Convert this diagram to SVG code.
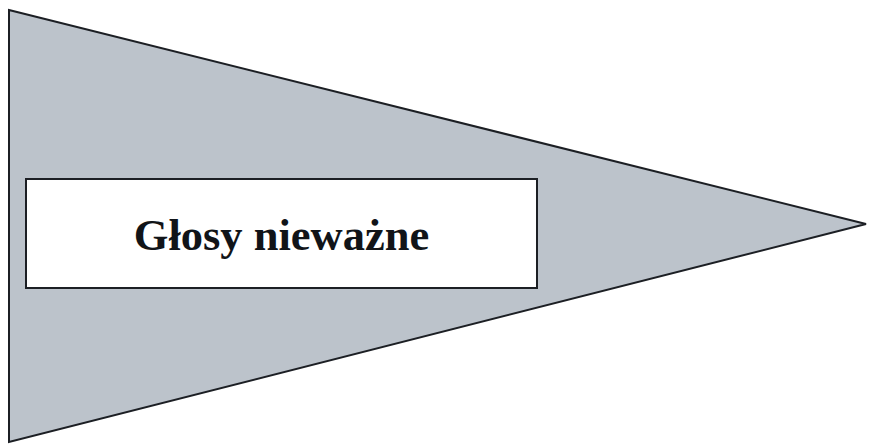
<svg xmlns="http://www.w3.org/2000/svg" width="869" height="445" viewBox="0 0 869 445">
<style>
.tri{fill:#bcc3cb;stroke:#1c1f24;stroke-width:2}
.box{fill:#ffffff;stroke:#1c1f24;stroke-width:2}
.lbl{font-family:"Liberation Serif","Times New Roman",serif;font-weight:bold;font-size:44.5px;fill:#111418}
</style>
<rect width="869" height="445" fill="#ffffff"/>
<g id="pennant">
<polygon class="tri" points="9,10 866,224 9,442"/>
</g>
<g id="label-box">
<rect class="box" x="26" y="179" width="511" height="109"/>
<text class="lbl" x="281.5" y="250" text-anchor="middle">Głosy nieważne</text>
</g>
</svg>
